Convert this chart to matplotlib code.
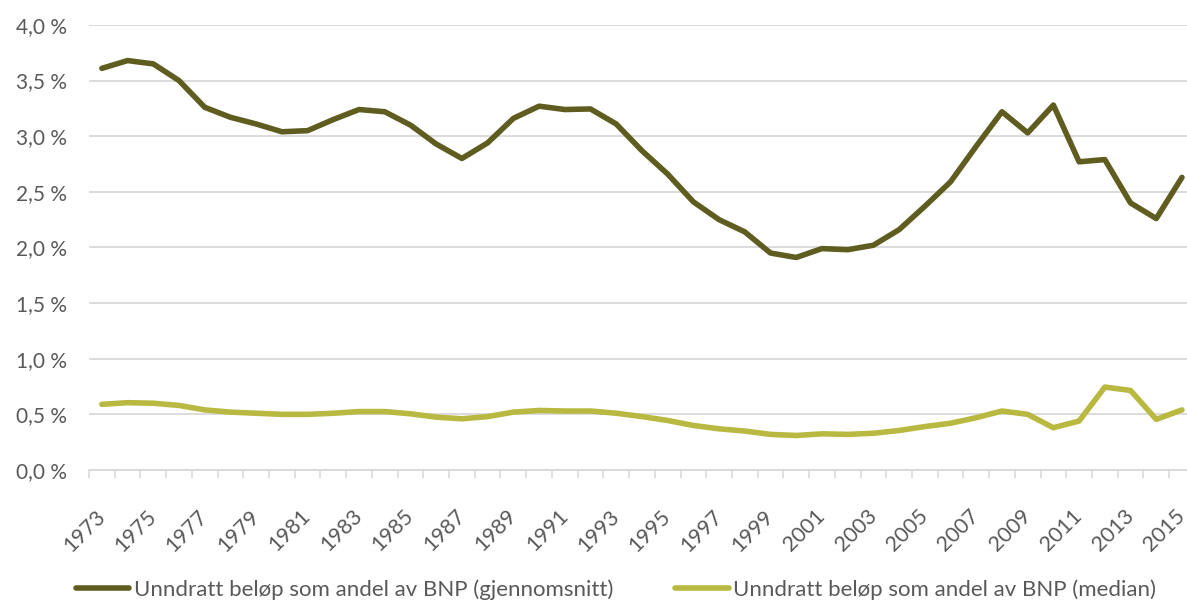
import numpy as np
import matplotlib
matplotlib.use("Agg")
import matplotlib.pyplot as plt
from matplotlib.ticker import FixedLocator, FuncFormatter

plt.rcParams['font.family'] = ['Lato', 'DejaVu Sans']

years = np.arange(1973, 2016)

# evaded amount as share of GDP, in percent
mean_share = [3.61, 3.68, 3.65, 3.50, 3.26, 3.17, 3.11, 3.04, 3.05, 3.15,
              3.24, 3.22, 3.10, 2.93, 2.80, 2.94, 3.16, 3.27, 3.24, 3.245,
              3.11, 2.87, 2.66, 2.41, 2.25, 2.14, 1.95, 1.91, 1.99, 1.98,
              2.02, 2.16, 2.37, 2.59, 2.91, 3.22, 3.03, 3.28, 2.77, 2.79,
              2.40, 2.26, 2.63]
median_share = [0.59, 0.605, 0.60, 0.58, 0.54, 0.52, 0.51, 0.50, 0.50, 0.51,
                0.525, 0.525, 0.505, 0.475, 0.46, 0.48, 0.52, 0.535, 0.53, 0.53,
                0.51, 0.48, 0.445, 0.40, 0.37, 0.35, 0.32, 0.31, 0.325, 0.32,
                0.33, 0.355, 0.39, 0.42, 0.47, 0.53, 0.50, 0.38, 0.44, 0.745,
                0.715, 0.455, 0.54]

labels = ["Unndratt beløp som andel av BNP (gjennomsnitt)",
          "Unndratt beløp som andel av BNP (median)"]
colors = ["#5e5c1f", "#b9b840"]

fig = plt.figure(figsize=(11.87, 6.03), dpi=100)
ax = fig.add_axes([0.075, 0.2206, 0.9316, 0.738])

ax.plot(years, mean_share, color=colors[0], lw=4.0, label=labels[0],
        solid_joinstyle='round', solid_capstyle='round')
ax.plot(years, median_share, color=colors[1], lw=4.0, label=labels[1],
        solid_joinstyle='round', solid_capstyle='round')

ax.set_xlim(years[0] - 0.5, years[-1] + 0.5)
ax.set_ylim(0, 4.0)
ax.set_yticks(np.arange(0, 4.01, 0.5))
ax.yaxis.set_major_formatter(FuncFormatter(lambda v, p: f"{v:.1f} %".replace(".", ",")))
ax.grid(axis='y', color='#d9d9d9', lw=1.3)
ax.set_axisbelow(True)

ax.set_xticks(years[::2])
ax.set_xticklabels([str(y) for y in years[::2]], rotation=45, ha='right',
                   va='center', rotation_mode='anchor')
ax.xaxis.set_minor_locator(FixedLocator(np.arange(years[0] - 0.5, years[-1] + 1, 1)))
ax.tick_params(axis='x', which='major', length=0, pad=31, labelsize=15.5, labelcolor='#595959')
ax.tick_params(axis='x', which='minor', length=6, width=1.2, color='#d9d9d9')
ax.tick_params(axis='y', length=0, pad=16, labelsize=15, labelcolor='#595959')

for side in ['top', 'right', 'left']:
    ax.spines[side].set_visible(False)
ax.spines['bottom'].set_color('#d9d9d9')
ax.spines['bottom'].set_linewidth(1.3)

fig.legend(loc='center', bbox_to_anchor=(0.519, 0.022), ncol=2, frameon=False,
           fontsize=16, handlelength=2.4, handletextpad=0.2, columnspacing=2.8,
           labelcolor='#595959')

fig.savefig("out.png", dpi=100)
